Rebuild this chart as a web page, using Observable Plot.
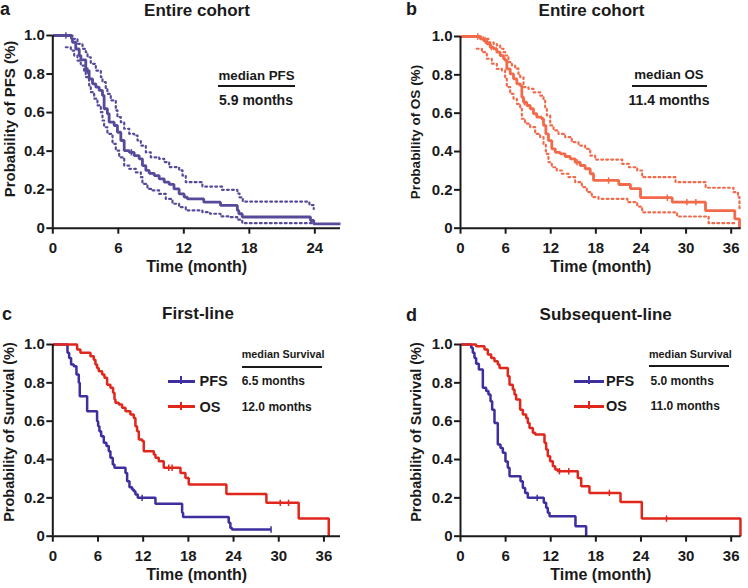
<!DOCTYPE html>
<html>
<head>
<meta charset="utf-8">
<script src="https://cdn.jsdelivr.net/npm/d3@7"></script>
<script src="https://cdn.jsdelivr.net/npm/@observablehq/plot@0.6"></script>
<style>
  html, body { margin: 0; padding: 0; background: #fff; }
  #root { position: relative; width: 748px; height: 588px; overflow: hidden; font-family: "Liberation Sans", Arial, sans-serif; font-weight: bold; color: #1a1a1a; }
  .pan { position: absolute; width: 374px; height: 294px; }
  .lbl { position: absolute; white-space: nowrap; line-height: 1; font-weight: bold; }
  .sw { position: absolute; height: 3px; }
  .swt { position: absolute; width: 2px; height: 8px; }
  .hr { position: absolute; height: 2px; background: #1a1a1a; }
</style>
</head>
<body>
<div id="root"></div>
<script>
// ---------- data (time in months, survival probability) ----------
const ticks24 = [0, 6, 12, 18, 24];
const ticks36 = [0, 6, 12, 18, 24, 30, 36];
const yTicks = [0, 0.2, 0.4, 0.6, 0.8, 1.0];

// Panel a: entire cohort PFS with 95% CI
const pfsAll = [[0,1],[1.71,0.983],[1.8,0.965],[2.1,0.93],[2.42,0.896],[2.57,0.874],[3.02,0.818],[3.33,0.775],[3.64,0.749],[3.94,0.732],[4.25,0.715],[4.55,0.689],[4.7,0.62],[5.0,0.594],[5.16,0.55],[5.62,0.533],[5.92,0.498],[6.23,0.455],[6.54,0.403],[7.0,0.394],[7.45,0.377],[7.91,0.36],[8.21,0.325],[8.52,0.30],[8.83,0.285],[9.29,0.273],[9.74,0.256],[10.2,0.239],[10.66,0.227],[11.1,0.204],[11.57,0.178],[12.03,0.161],[12.33,0.152],[13.83,0.135],[15.36,0.118],[16.9,0.092],[17.04,0.075],[17.35,0.058],[23.6,0.04],[23.9,0.022],[26.35,0.022]];
const pfsAllUpper = [[1.7,1.0],[1.8,0.983],[2.26,0.957],[2.72,0.931],[3.02,0.913],[3.18,0.887],[3.48,0.853],[3.94,0.818],[4.4,0.784],[4.55,0.758],[4.85,0.723],[5.0,0.697],[5.31,0.663],[5.77,0.611],[5.92,0.576],[6.23,0.55],[6.54,0.516],[7.0,0.49],[7.45,0.481],[7.76,0.455],[8.06,0.429],[8.52,0.394],[8.97,0.368],[9.74,0.36],[10.2,0.343],[10.66,0.317],[11.57,0.30],[11.88,0.273],[12.18,0.239],[13.7,0.216],[15.5,0.199],[16.9,0.18],[17.1,0.16],[17.4,0.138],[23.5,0.12],[23.9,0.10]];
const pfsAllLower = [[1.19,0.939],[1.65,0.922],[1.96,0.896],[2.26,0.87],[2.56,0.844],[2.87,0.81],[3.02,0.784],[3.33,0.741],[3.48,0.706],[3.79,0.672],[4.09,0.637],[4.4,0.602],[4.55,0.559],[4.7,0.524],[5.0,0.49],[5.47,0.438],[5.77,0.403],[6.08,0.368],[6.54,0.325],[7.0,0.308],[7.6,0.29],[8.06,0.265],[8.21,0.23],[8.67,0.204],[9.13,0.196],[9.74,0.178],[10.35,0.152],[10.96,0.127],[11.57,0.109],[12.18,0.092],[13.7,0.083],[14.4,0.075],[15.36,0.061],[16.3,0.057],[16.9,0.044],[17.35,0.026],[23.9,0.026]];
const pfsAllCens = [[1.2,1.0],[3.2,0.818],[7.2,0.394]];

// Panel b: entire cohort OS with 95% CI
const osAll = [[0,1],[2.62,0.988],[3.06,0.979],[3.5,0.962],[3.95,0.944],[4.39,0.936],[4.83,0.918],[5.28,0.9],[5.72,0.884],[5.94,0.875],[6.16,0.831],[6.61,0.805],[7.05,0.779],[7.49,0.753],[7.94,0.744],[8.16,0.683],[8.38,0.657],[8.82,0.64],[9.27,0.623],[9.71,0.597],[10.15,0.579],[10.8,0.571],[11.04,0.536],[11.35,0.492],[11.7,0.457],[12.14,0.414],[12.6,0.396],[13.26,0.388],[13.92,0.374],[14.59,0.362],[15.25,0.344],[15.92,0.327],[16.58,0.31],[17.25,0.284],[17.69,0.249],[21.05,0.228],[22.6,0.206],[23.94,0.159],[28.15,0.136],[32.58,0.092],[36.48,0.049],[37.1,0]];
const osAllUpper = [[2.5,1.0],[3.06,0.988],[3.72,0.970],[4.39,0.962],[4.83,0.953],[5.28,0.936],[5.72,0.918],[5.94,0.901],[6.38,0.866],[6.83,0.849],[7.27,0.832],[7.71,0.805],[7.94,0.788],[8.38,0.736],[9.04,0.727],[9.71,0.709],[10.6,0.692],[11.04,0.666],[11.26,0.631],[11.48,0.588],[11.93,0.536],[12.37,0.51],[13.03,0.492],[13.92,0.475],[14.8,0.449],[15.69,0.431],[16.58,0.414],[17.25,0.379],[17.91,0.358],[21.5,0.336],[22.4,0.318],[23.5,0.301],[24.16,0.266],[28.6,0.24],[32.6,0.211],[36.3,0.188],[36.9,0.162],[37.1,0.092]];
const osAllLower = [[2.17,0.936],[2.84,0.918],[3.5,0.884],[4.16,0.858],[4.83,0.831],[5.5,0.823],[5.94,0.779],[6.16,0.736],[6.61,0.701],[7.05,0.675],[7.49,0.649],[7.94,0.623],[8.16,0.571],[8.6,0.545],[9.27,0.527],[9.93,0.492],[10.6,0.475],[11.04,0.44],[11.35,0.388],[11.7,0.344],[12.14,0.318],[12.8,0.301],[13.47,0.284],[14.36,0.266],[15.25,0.24],[16.14,0.214],[16.8,0.188],[17.46,0.162],[18.35,0.153],[22.2,0.136],[23.5,0.113],[24.16,0.083],[28.8,0.061],[33.0,0.026],[36.5,0.026]];
const osAllCens = [[2.3,1.0],[3.3,0.979],[4.1,0.944],[8.5,0.657],[15.5,0.344],[19.7,0.249],[27.5,0.159],[30.1,0.136],[31.3,0.136]];

// Panel c: first-line
const pfsFirst = [[0,1],[1.95,0.957],[2.17,0.93],[2.43,0.896],[2.79,0.887],[3.14,0.843],[3.45,0.8],[3.58,0.73],[4.56,0.652],[5.88,0.6],[6.02,0.574],[6.19,0.548],[6.42,0.522],[6.77,0.487],[7.12,0.47],[7.43,0.443],[7.65,0.409],[7.96,0.374],[8.19,0.357],[9.65,0.33],[9.87,0.287],[10.18,0.256],[10.53,0.243],[10.75,0.235],[10.97,0.217],[11.28,0.2],[13.63,0.169],[17.17,0.122],[17.3,0.1],[23.36,0.07],[23.58,0.043],[23.8,0.035],[28.98,0.035]];
const osFirst = [[0,1],[3.23,0.974],[3.67,0.957],[5.0,0.939],[5.44,0.92],[5.66,0.896],[5.88,0.878],[6.1,0.86],[6.55,0.843],[6.86,0.826],[7.21,0.79],[7.65,0.774],[8.0,0.748],[8.19,0.713],[8.32,0.696],[8.76,0.687],[9.2,0.67],[9.65,0.652],[10.3,0.635],[10.75,0.617],[10.97,0.574],[11.19,0.548],[11.42,0.504],[11.86,0.496],[12.08,0.443],[13.41,0.426],[13.63,0.409],[14.07,0.391],[14.73,0.357],[16.95,0.33],[17.61,0.304],[18.05,0.27],[23.05,0.22],[28.36,0.174],[32.65,0.092],[36.64,0]];
const pfsFirstCens = [[11.86,0.2],[28.98,0.035]];
const osFirstCens = [[15.4,0.357],[15.84,0.357],[30.2,0.174],[31.3,0.174]];

// Panel d: subsequent-line
const pfsSub = [[0,1],[1.42,0.983],[1.64,0.957],[1.86,0.93],[2.08,0.9],[2.44,0.87],[2.97,0.774],[3.41,0.757],[3.72,0.739],[3.99,0.704],[4.21,0.66],[4.52,0.59],[4.96,0.478],[5.32,0.46],[5.63,0.435],[5.98,0.39],[6.29,0.357],[6.52,0.313],[7.98,0.287],[8.29,0.252],[8.6,0.226],[8.95,0.2],[11.08,0.174],[11.39,0.148],[11.61,0.122],[11.84,0.104],[15.29,0.052],[16.71,0]];
const osSub = [[0,1],[2.08,0.991],[3.19,0.974],[3.63,0.948],[4.08,0.93],[4.52,0.913],[4.96,0.896],[5.19,0.878],[6.29,0.835],[6.52,0.79],[6.96,0.765],[7.18,0.739],[7.4,0.713],[7.93,0.66],[8.29,0.635],[8.73,0.617],[8.95,0.59],[9.18,0.565],[9.62,0.539],[9.93,0.53],[11.17,0.487],[11.39,0.452],[11.61,0.417],[11.92,0.391],[12.28,0.365],[12.59,0.348],[12.94,0.339],[15.6,0.304],[16.05,0.261],[17.15,0.226],[21.28,0.179],[24.11,0.092],[37.23,0]];
const pfsSubCens = [[10.2,0.2]];
const osSubCens = [[13.16,0.339],[14.4,0.339],[19.8,0.226],[27.4,0.092]];

// ---------- colours ----------
const cPurple = "#584a9b";
const cCoral = "#f26a4a";
const cBlue = "#3d2f9e";
const cRed = "#e1261c";
const ink = "#1a1a1a";

const tickSym = { draw(ctx, size) { const r = Math.sqrt(size / Math.PI); ctx.moveTo(0, -r); ctx.lineTo(0, r); } };
const fmtY = d => d === 0 ? "0" : d.toFixed(1);

function kmLine(data, color, width) {
  return Plot.line(data, { x: d => d[0], y: d => d[1], curve: "step-after", stroke: color, strokeWidth: width, strokeLinejoin: "miter", strokeLinecap: "butt" });
}
function ciLine(data, color) {
  return Plot.line(data, { x: d => d[0], y: d => d[1], curve: "step-after", stroke: color, strokeWidth: 2.2, strokeDasharray: "1.8 3.2" });
}
function cens(data, color) {
  return Plot.dot(data, { x: d => d[0], y: d => d[1], symbol: tickSym, r: 3.2, stroke: color, fill: "none", strokeWidth: 1.5 });
}

function panel(o) {
  return Plot.plot({
    width: 374, height: 294,
    marginTop: o.mt, marginBottom: o.mb, marginLeft: o.ml, marginRight: o.mr,
    style: { fontFamily: "'Liberation Sans', Arial, sans-serif", fontSize: "15px", fontWeight: "bold", color: ink, background: "transparent", overflow: "visible" },
    x: { domain: [0, o.xmax] },
    y: { domain: [0, 1] },
    marks: [
      Plot.axisX({ ticks: o.xticks, tickSize: 6, tickPadding: 8, strokeWidth: 2, stroke: ink, label: null, fontSize: 15 }),
      Plot.axisY({ ticks: yTicks, tickSize: 6, tickPadding: 2, strokeWidth: 2, stroke: ink, label: null, tickFormat: fmtY, fontSize: 15 }),
      ...o.marks,
      Plot.ruleX([0], { stroke: ink, strokeWidth: 2 }),
      Plot.ruleY([0], { stroke: ink, strokeWidth: 2 }),
      Plot.text(["Time (month)"], { text: d => d, frameAnchor: "bottom", dy: 44, fontSize: 16, fontWeight: "bold", fill: ink })
    ]
  });
}

const root = document.getElementById("root");
function place(node, x, y) {
  const d = document.createElement("div");
  d.className = "pan"; d.style.left = x + "px"; d.style.top = y + "px";
  d.appendChild(node); root.appendChild(d);
}
function label(txt, x, y, size, anchor, rot) {
  const d = document.createElement("div");
  d.className = "lbl"; d.textContent = txt;
  d.style.left = x + "px"; d.style.top = y + "px"; d.style.fontSize = size + "px";
  let t = anchor === "middle" ? "translate(-50%,-50%)" : "translate(0,-50%)";
  if (rot) t += " rotate(-90deg)";
  d.style.transform = t;
  root.appendChild(d);
}
function hr(x1, x2, y) {
  const d = document.createElement("div");
  d.className = "hr"; d.style.left = x1 + "px"; d.style.width = (x2 - x1) + "px"; d.style.top = (y - 1) + "px";
  root.appendChild(d);
}
function swatch(x1, x2, y, color) {
  const d = document.createElement("div");
  d.className = "sw"; d.style.left = x1 + "px"; d.style.width = (x2 - x1) + "px"; d.style.top = (y - 1.5) + "px"; d.style.background = color;
  root.appendChild(d);
  const t = document.createElement("div");
  t.className = "swt"; t.style.left = ((x1 + x2) / 2 - 1) + "px"; t.style.top = (y - 5) + "px"; t.style.background = color;
  root.appendChild(t);
}

// Panel a
place(panel({
  mt: 35, mb: 66.3, ml: 52.3, mr: 34, xmax: 26.35, xticks: ticks24,
  marks: [ciLine(pfsAllUpper, cPurple), ciLine(pfsAllLower, cPurple), kmLine(pfsAll, cPurple, 2.8), cens(pfsAllCens, cPurple)]
}), 0, 0);

// Panel b
place(panel({
  mt: 36, mb: 66.3, ml: 86, mr: 7.3, xmax: 37.33, xticks: ticks36,
  marks: [ciLine(osAllUpper, cCoral), ciLine(osAllLower, cCoral), kmLine(osAll, cCoral, 2.8), cens(osAllCens, cCoral)]
}), 374, 0);

// Panel c
place(panel({
  mt: 50, mb: 52.3, ml: 52.3, mr: 34, xmax: 38.2, xticks: ticks36,
  marks: [kmLine(pfsFirst, cBlue, 2.5), kmLine(osFirst, cRed, 2.5), cens(pfsFirstCens, cBlue), cens(osFirstCens, cRed)]
}), 0, 294);

// Panel d
place(panel({
  mt: 50, mb: 52.3, ml: 86, mr: 7.3, xmax: 37.33, xticks: ticks36,
  marks: [kmLine(pfsSub, cBlue, 2.5), kmLine(osSub, cRed, 2.5), cens(pfsSubCens, cBlue), cens(osSubCens, cRed)]
}), 374, 294);

// Y-axis titles
label("Probability of PFS (%)", 8.5, 118.7, 15, "middle", true);
label("Probability of OS (%)", 416, 131.7, 13.5, "middle", true);
label("Probability of Survival (%)", 8.5, 432.3, 14.5, "middle", true);
label("Probability of Survival (%)", 416, 432.3, 14.5, "middle", true);

// Titles and panel letters
label("a", 0, 9, 18, "start");
label("b", 406, 9, 18, "start");
label("c", 2, 314, 18, "start");
label("d", 406, 315, 18, "start");
label("Entire cohort", 197, 10, 17, "middle");
label("Entire cohort", 591.5, 10, 17, "middle");
label("First-line", 198, 312.5, 17, "middle");
label("Subsequent-line", 605.7, 314, 17, "middle");

// Median annotations a, b
label("median PFS", 256.5, 76, 13.3, "middle");
hr(218, 295, 86);
label("5.9 months", 256, 100, 14, "middle");
label("median OS", 669, 75, 13.3, "middle");
hr(631.7, 707.3, 86);
label("11.4 months", 669, 99.5, 14, "middle");

// Legends c, d
label("median Survival", 241.7, 354, 10.8, "start");
hr(241.7, 322, 366.7);
swatch(167.7, 195, 381.3, cBlue);
label("PFS", 199.5, 381.3, 14.5, "start");
label("6.5 months", 241.7, 381.3, 12, "start");
swatch(167.7, 195, 406.7, cRed);
label("OS", 199.5, 406.7, 14.5, "start");
label("12.0 months", 241.7, 406.7, 12, "start");

label("median Survival", 649, 354, 10.8, "start");
hr(649, 729, 366);
swatch(574, 604, 381.3, cBlue);
label("PFS", 606, 381.3, 14.5, "start");
label("5.0 months", 650.5, 381.3, 12, "start");
swatch(574, 604, 406, cRed);
label("OS", 606, 406, 14.5, "start");
label("11.0 months", 650.5, 406, 12, "start");
</script>
</body>
</html>
